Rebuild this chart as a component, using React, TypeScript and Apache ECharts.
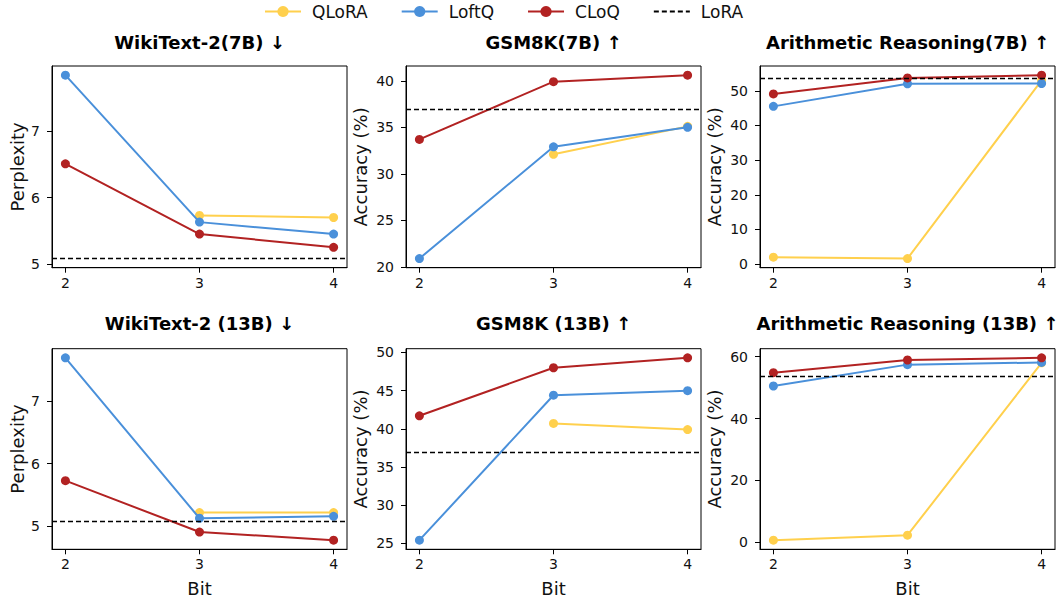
import React, { useEffect, useRef } from "react";
import * as echarts from "echarts";

const bits = [2, 3, 4];
const methods = ["QLoRA", "LoftQ", "CLoQ"];
const colors = ["#FFD04D", "#4A90DA", "#B22222"];

// WikiText-2 (7B)
const wiki7Qlora = [null, 5.73, 5.70];
const wiki7Loftq = [7.85, 5.63, 5.45];
const wiki7Cloq = [6.51, 5.45, 5.25];
const wiki7Lora = 5.08;
// GSM8K (7B)
const gsm7Qlora = [null, 32.1, 35.1];
const gsm7Loftq = [20.9, 32.9, 35.0];
const gsm7Cloq = [33.7, 39.9, 40.6];
const gsm7Lora = 36.9;
// Arithmetic Reasoning (7B)
const arith7Qlora = [2.0, 1.6, 53.0];
const arith7Loftq = [45.5, 52.0, 52.1];
const arith7Cloq = [49.1, 53.7, 54.5];
const arith7Lora = 53.7;
// WikiText-2 (13B)
const wiki13Qlora = [null, 5.22, 5.22];
const wiki13Loftq = [7.69, 5.13, 5.16];
const wiki13Cloq = [5.73, 4.91, 4.78];
const wiki13Lora = 5.08;
// GSM8K (13B)
const gsm13Qlora = [null, 40.7, 39.9];
const gsm13Loftq = [25.4, 44.4, 45.0];
const gsm13Cloq = [41.7, 48.0, 49.3];
const gsm13Lora = 36.9;
// Arithmetic Reasoning (13B)
const arith13Qlora = [0.7, 2.3, 58.0];
const arith13Loftq = [50.5, 57.4, 58.1];
const arith13Cloq = [54.8, 58.9, 59.6];
const arith13Lora = 53.8;

const titles = [
  "WikiText-2(7B) ↓",
  "GSM8K(7B) ↑",
  "Arithmetic Reasoning(7B) ↑",
  "WikiText-2 (13B) ↓",
  "GSM8K (13B) ↑",
  "Arithmetic Reasoning (13B) ↑",
];
const yNames = ["Perplexity", "Accuracy (%)", "Accuracy (%)", "Perplexity", "Accuracy (%)", "Accuracy (%)"];
const yTicks = [
  [5, 6, 7],
  [20, 25, 30, 35, 40],
  [0, 10, 20, 30, 40, 50],
  [5, 6, 7],
  [25, 30, 35, 40, 45, 50],
  [0, 20, 40, 60],
];
const panelData = [
  [wiki7Qlora, wiki7Loftq, wiki7Cloq, wiki7Lora],
  [gsm7Qlora, gsm7Loftq, gsm7Cloq, gsm7Lora],
  [arith7Qlora, arith7Loftq, arith7Cloq, arith7Lora],
  [wiki13Qlora, wiki13Loftq, wiki13Cloq, wiki13Lora],
  [gsm13Qlora, gsm13Loftq, gsm13Cloq, gsm13Lora],
  [arith13Qlora, arith13Loftq, arith13Cloq, arith13Lora],
];

const colLefts = [52, 406, 760];
const plotW = 295;
const rowTops = [66, 348.7];
const rowHeights = [201.7, 200.6];
const yNameGaps = [26, 37, 37];
const FONT = "DejaVu Sans";

export default function App() {
  const ref = useRef<HTMLDivElement>(null);
  useEffect(() => {
    if (!ref.current) return;
    const chart = echarts.init(ref.current, null, { renderer: "svg" });
    const grids: any[] = [];
    const xAxes: any[] = [];
    const yAxes: any[] = [];
    const series: any[] = [];
    const graphics: any[] = [];
    panelData.forEach((pd, i) => {
      const row = Math.floor(i / 3);
      const col = i % 3;
      grids.push({
        left: colLefts[col],
        top: rowTops[row],
        width: plotW,
        height: rowHeights[row],
        show: true,
        borderColor: "#000",
        borderWidth: 1,
        backgroundColor: "transparent",
      });
      const all: number[] = [];
      for (let k = 0; k < 3; k++) (pd[k] as (number | null)[]).forEach((v) => v != null && all.push(v));
      all.push(pd[3] as number);
      const lo = Math.min(...all);
      const hi = Math.max(...all);
      const m = (hi - lo) * 0.05;
      xAxes.push({
        type: "value",
        gridIndex: i,
        min: 1.9,
        max: 4.1,
        splitLine: { show: false },
        axisLine: { show: true, onZero: false, lineStyle: { color: "#000", width: 1 } },
        axisTick: { show: true, customValues: bits, length: 5, lineStyle: { color: "#000" } },
        axisLabel: { customValues: bits, fontSize: 14, color: "#111", fontFamily: FONT, margin: 8 },
        name: row === 1 ? "Bit" : "",
        nameLocation: "middle",
        nameGap: 30,
        nameTextStyle: { fontSize: 18, color: "#111", fontFamily: FONT },
      });
      yAxes.push({
        type: "value",
        gridIndex: i,
        min: lo - m,
        max: hi + m,
        splitLine: { show: false },
        axisLine: { show: true, onZero: false, lineStyle: { color: "#000", width: 1 } },
        axisTick: { show: true, customValues: yTicks[i], length: 5, lineStyle: { color: "#000" } },
        axisLabel: { customValues: yTicks[i], fontSize: 14, color: "#111", fontFamily: FONT, margin: 12 },
        name: yNames[i],
        nameLocation: "middle",
        nameGap: yNameGaps[col],
        nameTextStyle: { fontSize: 18, color: "#111", fontFamily: FONT },
      });
      for (let k = 0; k < 3; k++) {
        const vals = pd[k] as (number | null)[];
        series.push({
          type: "line",
          name: methods[k],
          xAxisIndex: i,
          yAxisIndex: i,
          data: bits.map((b, j) => [b, vals[j]]).filter((p) => p[1] != null),
          symbol: "circle",
          symbolSize: 9,
          color: colors[k],
          itemStyle: { color: colors[k] },
          lineStyle: { color: colors[k], width: 2 },
          z: 2 + k,
        });
      }
      series.push({
        type: "line",
        name: "LoRA",
        xAxisIndex: i,
        yAxisIndex: i,
        data: [],
        symbol: "none",
        showSymbol: false,
        color: "#000",
        itemStyle: { color: "#000" },
        lineStyle: { color: "#000", width: 1.3, type: [5, 3] },
        markLine: {
          silent: true,
          symbol: ["none", "none"],
          label: { show: false },
          lineStyle: { color: "#000", width: 1.3, type: [5, 3] },
          data: [{ yAxis: pd[3] as number }],
          z: 6,
        },
      });
      graphics.push({
        type: "text",
        x: colLefts[col] + plotW / 2,
        y: row === 0 ? 42 : 323,
        style: {
          text: titles[i],
          textAlign: "center",
          textVerticalAlign: "middle",
          fontSize: 18,
          fontWeight: "bold",
          fontFamily: FONT,
          fill: "#000",
        },
      });
    });
    chart.setOption({
      animation: false,
      backgroundColor: "#fff",
      legend: {
        data: ["QLoRA", "LoftQ", "CLoQ", { name: "LoRA", itemStyle: { opacity: 0 } }],
        left: 264,
        top: 3,
        padding: 0,
        itemWidth: 36,
        itemHeight: 14,
        itemGap: 33,
        textStyle: { fontSize: 17, color: "#111", fontFamily: FONT, padding: [0, 0, 0, 6] },
      },
      grid: grids,
      xAxis: xAxes,
      yAxis: yAxes,
      series,
      graphic: graphics,
    });
    return () => chart.dispose();
  }, []);
  return <div ref={ref} style={{ position: "fixed", left: 0, top: 0, width: 1058, height: 600 }} />;
}
